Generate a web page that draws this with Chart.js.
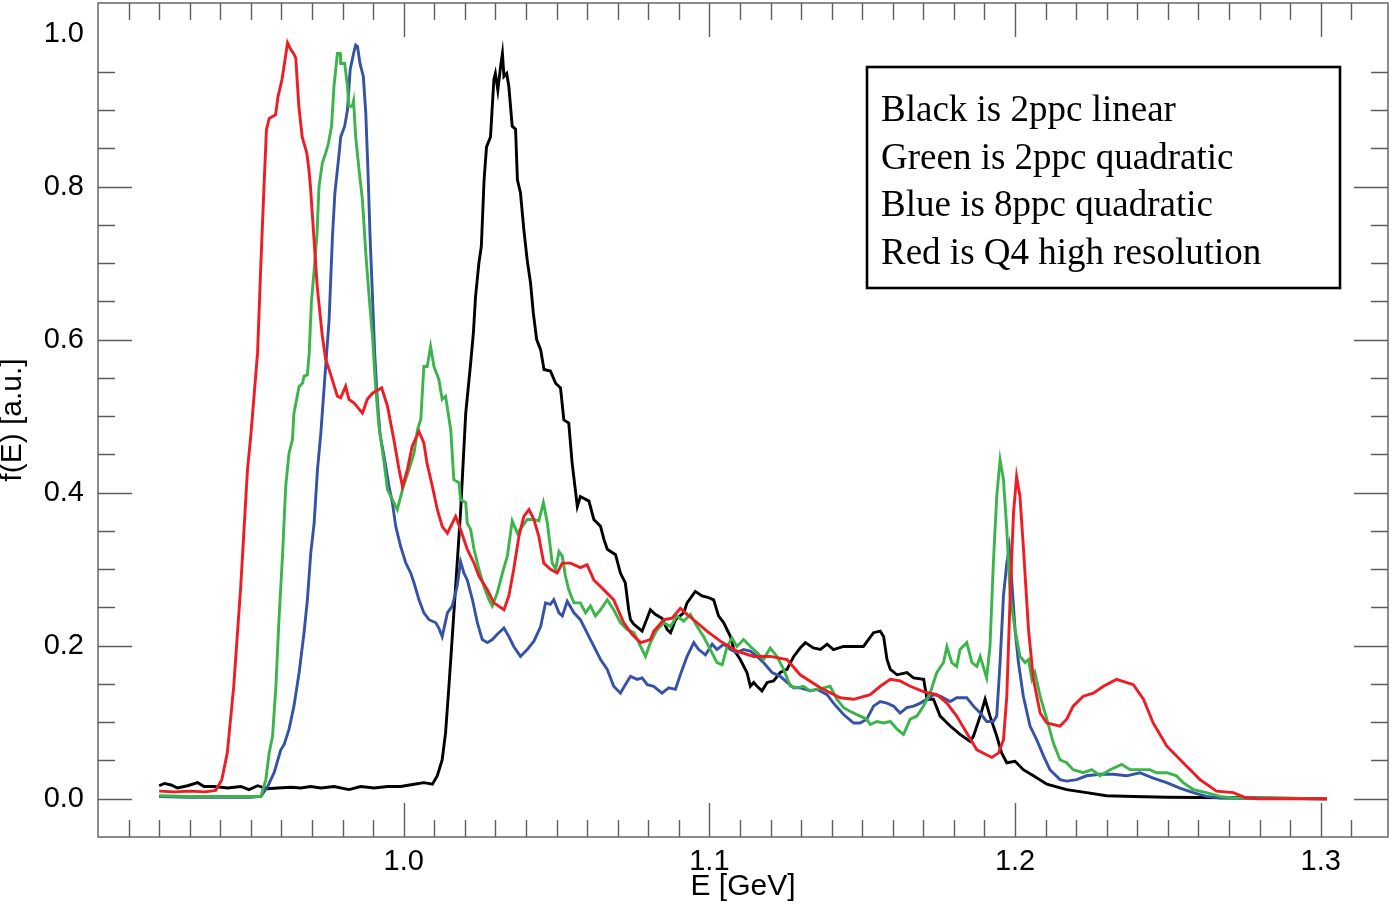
<!DOCTYPE html>
<html>
<head>
<meta charset="utf-8">
<title>f(E) spectra</title>
<script src="https://cdn.jsdelivr.net/npm/chart.js@4.4.0/dist/chart.umd.min.js"></script>
<style>
  html, body { margin: 0; padding: 0; background: #fff; }
  #wrap { width: 1394px; height: 915px; }
</style>
</head>
<body>
<div id="wrap"><canvas id="myChart" width="1394" height="915"></canvas></div>
<script>
// [E (GeV), f(E) (a.u.)]
let blackCurve = [
  [0.920,0.017],[0.9217,0.020],[0.9239,0.018],[0.926,0.014],[0.9293,0.017],[0.9326,0.021],[0.9347,0.016],[0.938,0.016],
  [0.9424,0.014],[0.9467,0.016],[0.9494,0.012],[0.9522,0.017],[0.9555,0.013],[0.9587,0.014],[0.9631,0.015],[0.9663,0.014],
  [0.9696,0.016],[0.9729,0.014],[0.9772,0.016],[0.9821,0.012],[0.9859,0.016],[0.9903,0.014],[0.9947,0.016],[0.999,0.016],
  [1.0034,0.019],[1.0066,0.021],[1.0094,0.019],[1.011,0.030],[1.0126,0.051],[1.0137,0.086],[1.0148,0.147],[1.0159,0.212],
  [1.0186,0.374],[1.0203,0.504],[1.0219,0.569],[1.0228,0.609],[1.0235,0.656],[1.0246,0.700],[1.0254,0.722],[1.0263,0.809],
  [1.0271,0.852],[1.0284,0.865],[1.0295,0.940],[1.030,0.948],[1.0308,0.926],[1.0317,0.957],[1.0323,0.974],[1.0328,0.944],
  [1.0337,0.948],[1.0344,0.931],[1.0355,0.879],[1.0366,0.875],[1.0372,0.809],[1.0382,0.792],[1.0393,0.744],[1.0404,0.704],
  [1.0415,0.674],[1.0424,0.635],[1.0435,0.600],[1.0448,0.587],[1.0459,0.561],[1.048,0.559],[1.0497,0.543],[1.0513,0.537],
  [1.0524,0.495],[1.054,0.491],[1.0551,0.439],[1.0568,0.382],[1.0578,0.395],[1.0606,0.389],[1.0622,0.365],[1.0644,0.356],
  [1.0655,0.339],[1.0666,0.326],[1.0693,0.319],[1.0709,0.295],[1.0725,0.282],[1.0736,0.247],[1.0742,0.234],[1.0753,0.228],
  [1.078,0.219],[1.0807,0.247],[1.0823,0.241],[1.0845,0.236],[1.0862,0.221],[1.0873,0.217],[1.0889,0.234],[1.0916,0.243],
  [1.0927,0.256],[1.0954,0.271],[1.0976,0.265],[1.0997,0.263],[1.1014,0.260],[1.103,0.239],[1.1047,0.230],[1.1069,0.212],
  [1.108,0.195],[1.1101,0.182],[1.1123,0.165],[1.1134,0.147],[1.1145,0.152],[1.1156,0.147],[1.1172,0.141],[1.1189,0.152],
  [1.121,0.154],[1.1232,0.165],[1.1254,0.169],[1.1276,0.186],[1.1297,0.197],[1.1314,0.204],[1.134,0.197],[1.1363,0.195],
  [1.1385,0.202],[1.1406,0.195],[1.1439,0.199],[1.1472,0.199],[1.1504,0.199],[1.1537,0.217],[1.1559,0.219],[1.157,0.212],
  [1.1581,0.182],[1.1592,0.169],[1.1614,0.162],[1.1646,0.165],[1.1668,0.158],[1.1701,0.156],[1.1712,0.130],[1.1733,0.130],
  [1.1755,0.108],[1.1788,0.095],[1.182,0.084],[1.1853,0.075],[1.1864,0.082],[1.1886,0.108],[1.1902,0.130],[1.1918,0.108],
  [1.194,0.082],[1.1956,0.060],[1.1973,0.047],[1.200,0.049],[1.2027,0.038],[1.206,0.030],[1.2104,0.019],[1.2169,0.012],
  [1.2234,0.008],[1.2299,0.004],[1.2386,0.003],[1.25,0.002],[1.28,0.001],[1.302,0.0]
];

let greenCurve = [
  [0.920,0.004],[0.930,0.003],[0.940,0.003],[0.950,0.003],[0.9533,0.003],[0.9549,0.025],[0.956,0.060],[0.9571,0.082],
  [0.9582,0.147],[0.9592,0.234],[0.9604,0.321],[0.9614,0.408],[0.9625,0.452],[0.9636,0.469],[0.9641,0.504],[0.9658,0.539],
  [0.9669,0.543],[0.9674,0.552],[0.9685,0.554],[0.9691,0.583],[0.9698,0.648],[0.9707,0.691],[0.9716,0.735],[0.9723,0.800],
  [0.9734,0.831],[0.9745,0.844],[0.9754,0.857],[0.9764,0.879],[0.9772,0.931],[0.9783,0.974],[0.9792,0.974],[0.9794,0.961],
  [0.9807,0.961],[0.9816,0.931],[0.9821,0.905],[0.9832,0.905],[0.9836,0.912],[0.9843,0.865],[0.9854,0.822],[0.9865,0.783],
  [0.9876,0.713],[0.9887,0.656],[0.9898,0.604],[0.9908,0.539],[0.9919,0.487],[0.9936,0.439],[0.9947,0.404],[0.9963,0.391],
  [0.9979,0.378],[0.9996,0.404],[1.0017,0.430],[1.0034,0.452],[1.0045,0.482],[1.0056,0.496],[1.0066,0.565],[1.0077,0.565],
  [1.0088,0.591],[1.0099,0.565],[1.0115,0.548],[1.0126,0.522],[1.0137,0.526],[1.0154,0.482],[1.0164,0.417],[1.0181,0.413],
  [1.0186,0.391],[1.0203,0.387],[1.0208,0.360],[1.0219,0.352],[1.023,0.326],[1.0246,0.300],[1.0262,0.278],[1.0279,0.260],
  [1.029,0.252],[1.0306,0.269],[1.0323,0.295],[1.0339,0.317],[1.0355,0.363],[1.0372,0.347],[1.0388,0.356],[1.0404,0.365],
  [1.0426,0.365],[1.0442,0.363],[1.0457,0.387],[1.047,0.360],[1.0486,0.308],[1.0497,0.300],[1.0508,0.323],[1.0519,0.317],
  [1.0529,0.291],[1.054,0.273],[1.0557,0.256],[1.0578,0.256],[1.0595,0.243],[1.0611,0.252],[1.0627,0.239],[1.0644,0.247],
  [1.0666,0.260],[1.0687,0.247],[1.0709,0.230],[1.0731,0.221],[1.0753,0.217],[1.0775,0.199],[1.0791,0.186],[1.0807,0.204],
  [1.0829,0.221],[1.0851,0.230],[1.0873,0.225],[1.0894,0.239],[1.0916,0.232],[1.0938,0.241],[1.096,0.225],[1.0981,0.212],
  [1.1003,0.195],[1.1025,0.178],[1.1042,0.175],[1.1058,0.199],[1.1074,0.210],[1.109,0.199],[1.1112,0.208],[1.1134,0.199],
  [1.1156,0.191],[1.1177,0.182],[1.1199,0.197],[1.1221,0.186],[1.1243,0.169],[1.1265,0.147],[1.1287,0.145],[1.1308,0.147],
  [1.133,0.141],[1.1352,0.143],[1.1374,0.145],[1.1395,0.147],[1.1417,0.130],[1.1439,0.119],[1.1461,0.114],[1.1493,0.108],
  [1.1515,0.104],[1.1526,0.097],[1.1548,0.101],[1.157,0.099],[1.1592,0.101],[1.1614,0.091],[1.1635,0.084],[1.1657,0.104],
  [1.1679,0.108],[1.170,0.121],[1.1722,0.138],[1.1744,0.165],[1.1766,0.178],[1.1777,0.199],[1.1793,0.178],[1.1809,0.173],
  [1.182,0.195],[1.1842,0.204],[1.1859,0.178],[1.1875,0.173],[1.1886,0.186],[1.1907,0.158],[1.1918,0.199],[1.1929,0.308],
  [1.194,0.395],[1.1951,0.443],[1.1962,0.417],[1.1973,0.352],[1.1984,0.265],[1.200,0.221],[1.2016,0.186],[1.2033,0.178],
  [1.2044,0.182],[1.2055,0.156],[1.2065,0.165],[1.2082,0.134],[1.2104,0.104],[1.2125,0.073],[1.2147,0.051],[1.2169,0.047],
  [1.219,0.038],[1.2223,0.034],[1.2251,0.038],[1.2278,0.030],[1.2311,0.038],[1.2349,0.045],[1.2376,0.038],[1.2408,0.038],
  [1.2441,0.038],[1.2463,0.034],[1.2496,0.034],[1.2528,0.030],[1.255,0.021],[1.2583,0.012],[1.2626,0.008],[1.267,0.003],
  [1.2713,0.001],[1.302,0.0]
];

let blueCurve = [
  [0.920,0.003],[0.930,0.002],[0.940,0.002],[0.950,0.002],[0.9533,0.003],[0.9555,0.016],[0.9576,0.034],[0.9598,0.064],
  [0.9609,0.071],[0.9625,0.091],[0.9641,0.121],[0.9658,0.165],[0.9674,0.217],[0.9685,0.260],[0.9696,0.321],[0.9707,0.360],
  [0.9718,0.430],[0.9729,0.478],[0.974,0.539],[0.9756,0.626],[0.9767,0.735],[0.9775,0.792],[0.9789,0.844],[0.9794,0.865],
  [0.9807,0.879],[0.9816,0.900],[0.9825,0.953],[0.9836,0.974],[0.9843,0.985],[0.9849,0.983],[0.9857,0.961],[0.9868,0.944],
  [0.9876,0.896],[0.9883,0.822],[0.989,0.735],[0.9898,0.656],[0.9905,0.583],[0.9914,0.520],[0.9923,0.475],[0.9936,0.447],
  [0.9952,0.408],[0.9963,0.387],[0.9974,0.356],[0.999,0.330],[1.0007,0.308],[1.0023,0.295],[1.0034,0.282],[1.005,0.260],
  [1.0066,0.243],[1.0083,0.234],[1.0105,0.230],[1.0115,0.223],[1.0126,0.212],[1.0143,0.243],[1.0159,0.252],[1.0175,0.278],
  [1.0186,0.310],[1.0197,0.295],[1.0208,0.286],[1.0225,0.260],[1.0241,0.230],[1.0257,0.208],[1.0274,0.204],[1.029,0.208],
  [1.0306,0.215],[1.0328,0.223],[1.0344,0.212],[1.036,0.199],[1.0382,0.186],[1.0404,0.195],[1.0426,0.206],[1.0448,0.225],
  [1.0464,0.256],[1.048,0.254],[1.0491,0.260],[1.0508,0.243],[1.0519,0.239],[1.0535,0.258],[1.0557,0.243],[1.0578,0.234],
  [1.0611,0.208],[1.0644,0.182],[1.0666,0.169],[1.0687,0.147],[1.0709,0.138],[1.0725,0.149],[1.0742,0.160],[1.0764,0.156],
  [1.078,0.158],[1.0797,0.149],[1.0818,0.147],[1.0845,0.138],[1.0867,0.145],[1.0889,0.143],[1.0905,0.162],[1.0927,0.186],
  [1.0949,0.204],[1.0965,0.195],[1.0987,0.188],[1.1009,0.202],[1.1025,0.195],[1.1047,0.202],[1.1069,0.195],[1.109,0.191],
  [1.1112,0.195],[1.1134,0.193],[1.1156,0.186],[1.1177,0.178],[1.1205,0.165],[1.1232,0.160],[1.1254,0.152],[1.1276,0.145],
  [1.1297,0.145],[1.133,0.141],[1.1352,0.143],[1.1385,0.136],[1.1406,0.125],[1.1439,0.110],[1.1472,0.099],[1.1493,0.099],
  [1.1515,0.104],[1.1537,0.121],[1.1559,0.127],[1.1581,0.125],[1.1603,0.121],[1.1624,0.112],[1.1646,0.119],[1.1668,0.121],
  [1.169,0.125],[1.1711,0.130],[1.1733,0.136],[1.1755,0.134],[1.1788,0.127],[1.1809,0.132],[1.1842,0.132],[1.1864,0.121],
  [1.1886,0.112],[1.1907,0.101],[1.1929,0.101],[1.194,0.108],[1.1951,0.178],[1.1962,0.265],[1.1973,0.308],[1.1981,0.328],
  [1.1989,0.286],[1.200,0.221],[1.2011,0.178],[1.2027,0.134],[1.2049,0.095],[1.2071,0.077],[1.2093,0.056],[1.2114,0.038],
  [1.2147,0.025],[1.2169,0.023],[1.2202,0.025],[1.2234,0.030],[1.2278,0.032],[1.2321,0.032],[1.2365,0.030],[1.2408,0.034],
  [1.2452,0.027],[1.2496,0.021],[1.2539,0.014],[1.2583,0.008],[1.2626,0.003],[1.267,0.001],[1.302,0.0]
];

let redCurve = [
  [0.920,0.010],[0.925,0.009],[0.930,0.010],[0.935,0.009],[0.9385,0.011],[0.9405,0.025],[0.9423,0.060],[0.9444,0.147],
  [0.9467,0.278],[0.9489,0.430],[0.950,0.475],[0.9522,0.583],[0.9532,0.691],[0.9543,0.800],[0.9551,0.874],[0.956,0.889],
  [0.9581,0.894],[0.9589,0.918],[0.9602,0.940],[0.961,0.961],[0.962,0.988],[0.9631,0.979],[0.964,0.974],[0.9647,0.968],
  [0.9657,0.905],[0.9668,0.865],[0.9683,0.844],[0.969,0.822],[0.9695,0.800],[0.9706,0.735],[0.9717,0.670],[0.9734,0.604],
  [0.9745,0.574],[0.976,0.556],[0.9783,0.526],[0.9794,0.524],[0.981,0.539],[0.9821,0.522],[0.9838,0.517],[0.9865,0.504],
  [0.9881,0.522],[0.9898,0.530],[0.9928,0.537],[0.9947,0.513],[0.9968,0.469],[0.9985,0.430],[0.9996,0.408],[1.0012,0.430],
  [1.0028,0.461],[1.005,0.480],[1.0066,0.465],[1.0076,0.439],[1.0094,0.408],[1.011,0.378],[1.0126,0.356],[1.0143,0.347],
  [1.017,0.369],[1.0186,0.352],[1.0208,0.326],[1.023,0.308],[1.0246,0.291],[1.0274,0.273],[1.0295,0.256],[1.0328,0.247],
  [1.0344,0.265],[1.036,0.300],[1.0377,0.343],[1.0393,0.369],[1.041,0.378],[1.0426,0.365],[1.0442,0.343],[1.0458,0.308],
  [1.048,0.300],[1.0502,0.295],[1.0519,0.308],[1.0546,0.308],[1.0578,0.302],[1.060,0.306],[1.0622,0.286],[1.0655,0.273],
  [1.0687,0.260],[1.072,0.230],[1.0747,0.215],[1.0775,0.204],[1.0807,0.208],[1.0818,0.219],[1.0851,0.234],[1.0878,0.236],
  [1.0905,0.249],[1.0927,0.241],[1.096,0.230],[1.0992,0.219],[1.1036,0.206],[1.109,0.193],[1.1145,0.186],[1.120,0.186],
  [1.1254,0.182],[1.1297,0.162],[1.1363,0.145],[1.1428,0.132],[1.1472,0.130],[1.1526,0.136],[1.1559,0.147],[1.1592,0.156],
  [1.1624,0.154],[1.1657,0.147],[1.170,0.140],[1.1744,0.136],[1.1777,0.125],[1.1809,0.108],[1.1842,0.086],[1.1875,0.064],
  [1.1924,0.054],[1.1946,0.060],[1.1962,0.077],[1.1973,0.134],[1.1984,0.265],[1.1995,0.374],[1.2005,0.421],[1.2016,0.395],
  [1.2027,0.330],[1.2044,0.221],[1.206,0.156],[1.2082,0.112],[1.2104,0.099],[1.2147,0.095],[1.2169,0.104],[1.219,0.121],
  [1.2223,0.134],[1.2256,0.138],[1.2289,0.147],[1.2332,0.156],[1.2387,0.149],[1.242,0.130],[1.2452,0.099],[1.2496,0.069],
  [1.255,0.047],[1.2605,0.025],[1.2659,0.010],[1.2714,0.008],[1.2757,0.001],[1.280,0.0],[1.302,0.0]
];

let xLabels = [1.0, 1.1, 1.2, 1.3];
let yLabels = [0.0, 0.2, 0.4, 0.6, 0.8, 1.0];
let legendText = [
  "Black is 2ppc linear",
  "Green is 2ppc quadratic",
  "Blue is 8ppc quadratic",
  "Red is Q4 high resolution"
];

const sans = '"Liberation Sans", Arial, Helvetica, sans-serif';
const serif = '"Liberation Serif", "Times New Roman", serif';
const toXY = arr => arr.map(p => ({x: p[0], y: p[1]}));

// IDL style box: ticks inside on all 4 sides, text box in the corner
const idlFrame = {
  id: 'idlFrame',
  afterDatasetsDraw(chart) {
    const {ctx, chartArea: a, scales} = chart;
    const sx = scales.x, sy = scales.y;
    ctx.save();
    ctx.strokeStyle = '#5c5c5c';
    ctx.lineWidth = 1.4;
    ctx.beginPath();
    for (let k = 91; k <= 131; k++) {
      const px = Math.round(sx.getPixelForValue(k / 100)) + 0.5;
      const len = k % 10 === 0 ? 34 : 17;
      ctx.moveTo(px, a.bottom); ctx.lineTo(px, a.bottom - len);
      ctx.moveTo(px, a.top); ctx.lineTo(px, a.top + len);
    }
    for (let k = 1; k <= 20; k++) {
      const py = Math.round(sy.getPixelForValue(k * 0.05 - 0.05)) + 0.5;
      const len = (k - 1) % 4 === 0 ? 34 : 17;
      ctx.moveTo(a.left, py); ctx.lineTo(a.left + len, py);
      ctx.moveTo(a.right, py); ctx.lineTo(a.right - len, py);
    }
    ctx.stroke();
    ctx.strokeRect(a.left, a.top, a.right - a.left, a.bottom - a.top);

    // text box
    ctx.fillStyle = '#fff';
    ctx.fillRect(867, 67, 473, 221);
    ctx.strokeStyle = '#000';
    ctx.lineWidth = 2.6;
    ctx.strokeRect(867, 67, 473, 221);
    ctx.fillStyle = '#000';
    ctx.font = '37px ' + serif;
    ctx.textBaseline = 'alphabetic';
    ctx.textAlign = 'left';
    legendText.forEach((t, i) => ctx.fillText(t, 881, 121 + i * 47.7));
    ctx.restore();
  }
};

const lineStyle = (label, arr, color, order) => ({
  label: label,
  data: toXY(arr),
  borderColor: color,
  backgroundColor: color,
  borderWidth: 2.9,
  pointRadius: 0,
  tension: 0,
  fill: false,
  order: order
});

new Chart(document.getElementById('myChart'), {
  type: 'line',
  data: {
    datasets: [
      lineStyle('2ppc linear', blackCurve, '#000000', 3),
      lineStyle('8ppc quadratic', blueCurve, '#3552a6', 2),
      lineStyle('2ppc quadratic', greenCurve, '#3bb54a', 1),
      lineStyle('Q4 high resolution', redCurve, '#ef1c24', 0)
    ]
  },
  options: {
    responsive: false,
    animation: false,
    events: [],
    layout: { padding: { top: 3, right: 6, left: 0, bottom: 0 } },
    plugins: { legend: { display: false }, tooltip: { enabled: false } },
    scales: {
      x: {
        type: 'linear',
        min: 0.9,
        max: 1.322,
        afterBuildTicks: s => { s.ticks = xLabels.map(v => ({value: v})); },
        afterFit: s => { s.height = 78; s.paddingLeft = 0; s.paddingRight = 0; },
        grid: { display: false, drawTicks: false },
        border: { display: false },
        ticks: {
          autoSkip: false, maxRotation: 0, padding: 8, color: '#000',
          font: { family: sans, size: 29 },
          callback: v => v.toFixed(1)
        },
        title: {
          display: true, text: 'E [GeV]', color: '#000',
          font: { family: sans, size: 30, lineHeight: 1 },
          padding: { top: 0, bottom: 13 }
        }
      },
      y: {
        type: 'linear',
        min: -0.05,
        max: 1.04,
        afterBuildTicks: s => { s.ticks = yLabels.map(v => ({value: v})); },
        afterFit: s => { s.width = 98; s.paddingTop = 0; s.paddingBottom = 0; },
        grid: { display: false, drawTicks: false },
        border: { display: false },
        ticks: {
          autoSkip: false, padding: 14, color: '#000',
          font: { family: sans, size: 29 },
          callback: v => v.toFixed(1)
        },
        title: {
          display: true, text: 'f(E) [a.u.]', color: '#000',
          font: { family: sans, size: 30, lineHeight: 1 },
          padding: { top: -2, bottom: 0 }
        }
      }
    }
  },
  plugins: [idlFrame]
});
</script>
</body>
</html>
